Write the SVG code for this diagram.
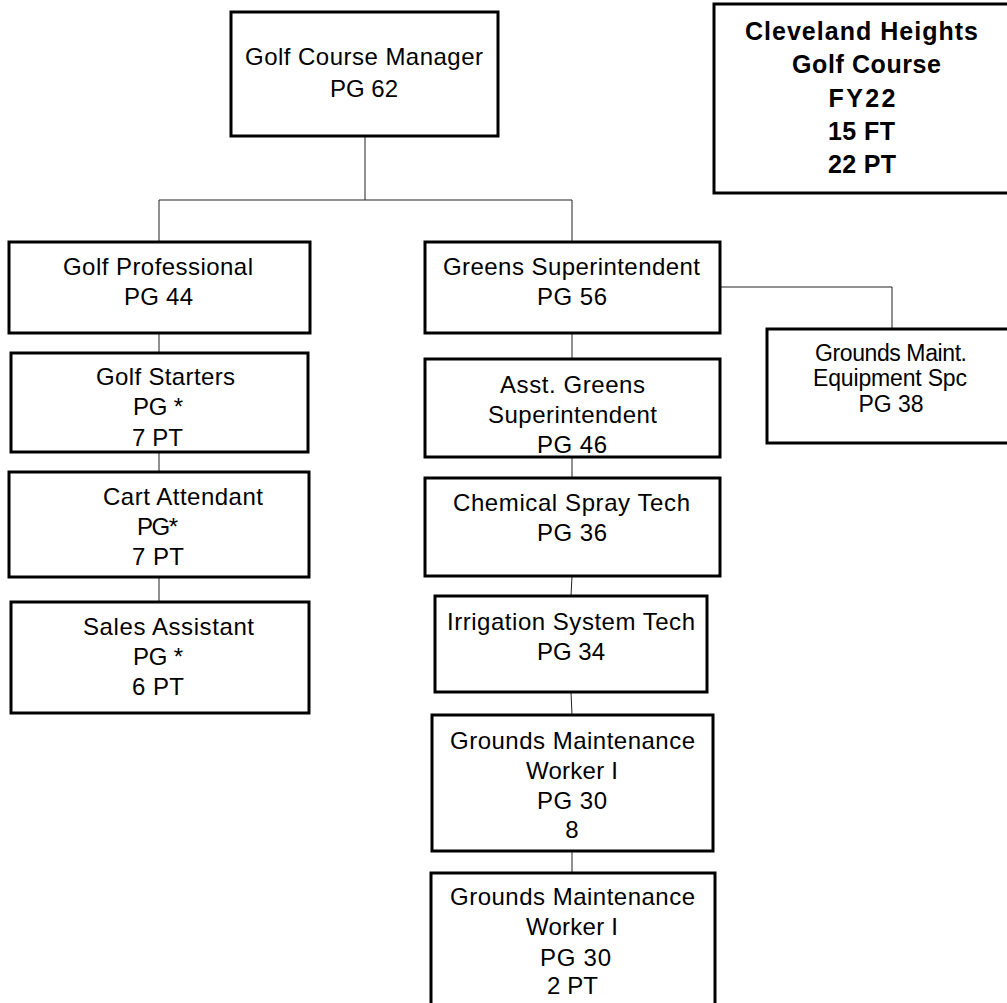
<svg xmlns="http://www.w3.org/2000/svg" width="1007" height="1003" viewBox="0 0 1007 1003">
<style>
.box{fill:#fff;stroke:#000;stroke-width:3}
.t{font-family:"Liberation Sans",Arial,sans-serif;font-size:24px;fill:#000;text-anchor:middle}
.b{font-weight:bold;font-size:25px}
.s{font-size:23px}
.c{fill:none;stroke:#222;stroke-width:1}
</style>
<rect width="1007" height="1003" fill="#fff"/>
<g id="connectors">
<path class="c" d="M365,137 V200 M159,241 V200 H572 V241"/>
<path class="c" d="M159,333 V353 M159,452 V472 M159,577 V602"/>
<path class="c" d="M572,333 V359 M572,457 V478 M572,576 L571,596 M571,692 L572,715 M572,851 V873"/>
<path class="c" d="M720,287 H892 V329"/>
</g>
<g id="manager">
<rect class="box" x="231" y="12" width="267" height="124"/>
<text class="t" x="364" y="65" textLength="238" lengthAdjust="spacing">Golf Course Manager</text>
<text class="t" x="364" y="97" textLength="68" lengthAdjust="spacing">PG 62</text>
</g>
<g id="title">
<rect class="box" x="714" y="4" width="300" height="189"/>
<text class="t b" x="861.5" y="40" textLength="233" lengthAdjust="spacing">Cleveland Heights</text>
<text class="t b" x="866.5" y="73" textLength="149" lengthAdjust="spacing">Golf Course</text>
<text class="t b" x="862" y="107" textLength="67" lengthAdjust="spacing">FY22</text>
<text class="t b" x="861.5" y="140" textLength="67" lengthAdjust="spacing">15 FT</text>
<text class="t b" x="862" y="173" textLength="68" lengthAdjust="spacing">22 PT</text>
</g>
<g id="golf-professional">
<rect class="box" x="9" y="242" width="301" height="91"/>
<text class="t" x="158" y="275" textLength="190" lengthAdjust="spacing">Golf Professional</text>
<text class="t" x="158.5" y="305" textLength="69" lengthAdjust="spacing">PG 44</text>
</g>
<g id="golf-starters">
<rect class="box" x="11" y="353" width="297" height="99"/>
<text class="t" x="165.5" y="385" textLength="139" lengthAdjust="spacing">Golf Starters</text>
<text class="t" x="158" y="415" textLength="50" lengthAdjust="spacing">PG *</text>
<text class="t" x="157.5" y="446" textLength="51" lengthAdjust="spacing">7 PT</text>
</g>
<g id="cart-attendant">
<rect class="box" x="9" y="472" width="300" height="105"/>
<text class="t" x="183" y="505" textLength="160" lengthAdjust="spacing">Cart Attendant</text>
<text class="t" x="157.5" y="535" textLength="41" lengthAdjust="spacing">PG*</text>
<text class="t" x="158" y="565" textLength="52" lengthAdjust="spacing">7 PT</text>
</g>
<g id="sales-assistant">
<rect class="box" x="11" y="602" width="298" height="111"/>
<text class="t" x="168.5" y="635" textLength="171" lengthAdjust="spacing">Sales Assistant</text>
<text class="t" x="158" y="665" textLength="50" lengthAdjust="spacing">PG *</text>
<text class="t" x="158" y="695" textLength="52" lengthAdjust="spacing">6 PT</text>
</g>
<g id="greens-superintendent">
<rect class="box" x="425" y="242" width="295" height="91"/>
<text class="t" x="571.5" y="275" textLength="257" lengthAdjust="spacing">Greens Superintendent</text>
<text class="t" x="572" y="305" textLength="70" lengthAdjust="spacing">PG 56</text>
</g>
<g id="asst-greens">
<rect class="box" x="425" y="359" width="295" height="98"/>
<text class="t" x="572.5" y="393" textLength="145" lengthAdjust="spacing">Asst. Greens</text>
<text class="t" x="572.5" y="423" textLength="169" lengthAdjust="spacing">Superintendent</text>
<text class="t" x="572" y="453" textLength="70" lengthAdjust="spacing">PG 46</text>
</g>
<g id="chemical-spray">
<rect class="box" x="425" y="478" width="295" height="98"/>
<text class="t" x="571.5" y="511" textLength="237" lengthAdjust="spacing">Chemical Spray Tech</text>
<text class="t" x="572" y="541" textLength="70" lengthAdjust="spacing">PG 36</text>
</g>
<g id="irrigation">
<rect class="box" x="435" y="596" width="272" height="96"/>
<text class="t" x="571" y="630" textLength="248" lengthAdjust="spacing">Irrigation System Tech</text>
<text class="t" x="571" y="660" textLength="68" lengthAdjust="spacing">PG 34</text>
</g>
<g id="gmw-1">
<rect class="box" x="432" y="715" width="281" height="136"/>
<text class="t" x="572.5" y="749" textLength="245" lengthAdjust="spacing">Grounds Maintenance</text>
<text class="t" x="572" y="779" textLength="92" lengthAdjust="spacing">Worker I</text>
<text class="t" x="572" y="809" textLength="70" lengthAdjust="spacing">PG 30</text>
<text class="t" x="572" y="838">8</text>
</g>
<g id="gmw-2">
<rect class="box" x="431" y="873" width="284" height="140"/>
<text class="t" x="572.5" y="905" textLength="245" lengthAdjust="spacing">Grounds Maintenance</text>
<text class="t" x="572" y="935" textLength="92" lengthAdjust="spacing">Worker I</text>
<text class="t" x="575.5" y="966" textLength="71" lengthAdjust="spacing">PG 30</text>
<text class="t" x="572.5" y="994" textLength="51" lengthAdjust="spacing">2 PT</text>
</g>
<g id="equipment-spc">
<rect class="box" x="767" y="329" width="260" height="114"/>
<text class="t s" x="891" y="361" textLength="152" lengthAdjust="spacing">Grounds Maint.</text>
<text class="t s" x="890" y="386" textLength="154" lengthAdjust="spacing">Equipment Spc</text>
<text class="t s" x="891" y="412">PG 38</text>
</g>
</svg>
